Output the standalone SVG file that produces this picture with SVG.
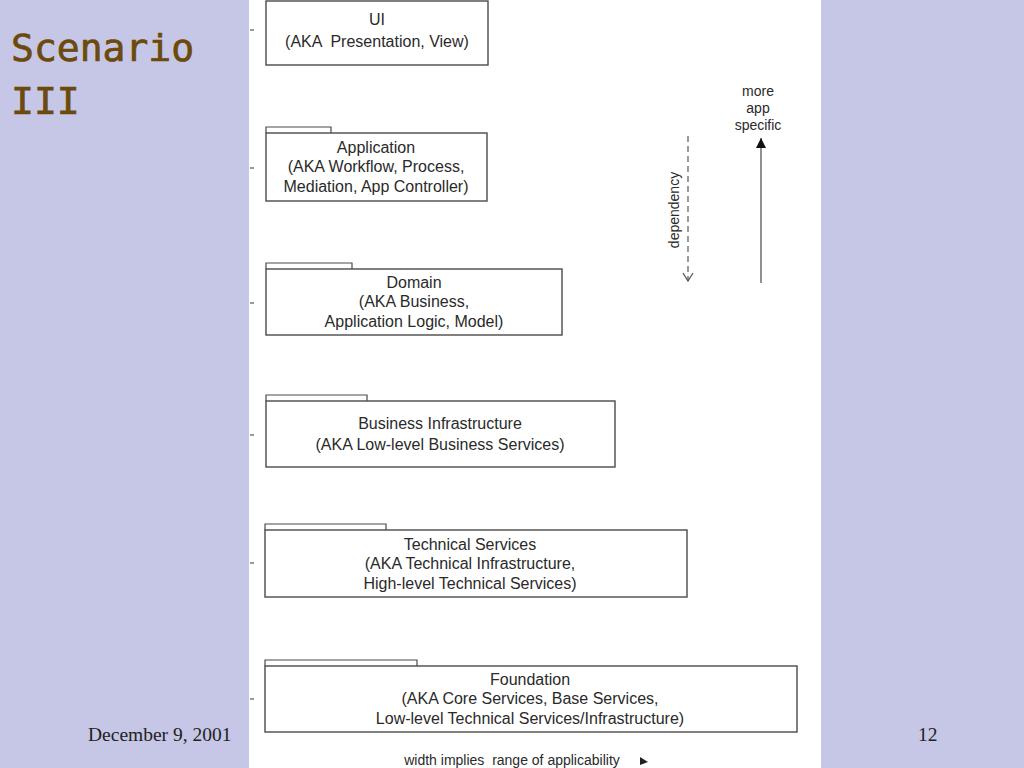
<svg xmlns="http://www.w3.org/2000/svg" width="1024" height="768" viewBox="0 0 1024 768">
<defs>
<style>
.box{fill:#ffffff;stroke:#4a4a4a;stroke-width:1.4}
.tab{fill:none;stroke:#4a4a4a;stroke-width:1.2}
.t{font-family:"Liberation Sans",Arial,sans-serif;font-size:16px;fill:#2a2a2a;text-anchor:middle}
.s{font-family:"Liberation Sans",Arial,sans-serif;font-size:14px;fill:#2a2a2a;text-anchor:middle}
.tick{stroke:#555;stroke-width:1.2}
.title{font-family:"DejaVu Sans Mono",monospace;font-size:38px;fill:#6b4a0c;stroke:#6b4a0c;stroke-width:0.7}
.foot{font-family:"Liberation Serif","Times New Roman",serif;font-size:19.5px;fill:#222}
</style>
<marker id="open" viewBox="0 0 12 12" refX="11" refY="6" markerWidth="12" markerHeight="12" markerUnits="userSpaceOnUse" orient="auto">
<path d="M3,1 L11,6 L3,11" fill="none" stroke="#555" stroke-width="1.3"/>
</marker>
<marker id="fill" viewBox="0 0 12 12" refX="6" refY="1" markerWidth="12" markerHeight="12" markerUnits="userSpaceOnUse">
<path d="M6,1 L11,11 L1,11 Z" fill="#111"/>
</marker>
</defs>
<rect width="1024" height="768" fill="#c6c6e6"/>
<rect x="249" y="0" width="572" height="768" fill="#ffffff"/>
<text class="title" x="11" y="61">Scenario</text>
<text class="title" x="11" y="114">III</text>
<text class="foot" x="88" y="741">December 9, 2001</text>
<text class="foot" x="918" y="741">12</text>

<g id="ui">
<rect class="box" x="266" y="1" width="222" height="64"/>
<line class="tick" x1="250" y1="30" x2="254" y2="30"/>
<text class="t" x="377" y="25">UI</text>
<text class="t" x="377" y="47" xml:space="preserve">(AKA  Presentation, View)</text>
</g>
<g id="application">
<path class="tab" d="M266,133 V127 H331 V133"/>
<rect class="box" x="266" y="133" width="221" height="68"/>
<line class="tick" x1="250" y1="168" x2="254" y2="168"/>
<text class="t" x="376" y="153">Application</text>
<text class="t" x="376" y="172">(AKA Workflow, Process,</text>
<text class="t" x="376" y="192">Mediation, App Controller)</text>
</g>
<g id="domain">
<path class="tab" d="M266,269 V263 H352 V269"/>
<rect class="box" x="266" y="269" width="296" height="66"/>
<line class="tick" x1="250" y1="303" x2="254" y2="303"/>
<text class="t" x="414" y="288">Domain</text>
<text class="t" x="414" y="307">(AKA Business,</text>
<text class="t" x="414" y="327">Application Logic, Model)</text>
</g>
<g id="business-infrastructure">
<path class="tab" d="M266,401 V395 H367 V401"/>
<rect class="box" x="266" y="401" width="349" height="66"/>
<line class="tick" x1="250" y1="435" x2="254" y2="435"/>
<text class="t" x="440" y="429">Business Infrastructure</text>
<text class="t" x="440" y="450">(AKA Low-level Business Services)</text>
</g>
<g id="technical-services">
<path class="tab" d="M265,530 V524 H386 V530"/>
<rect class="box" x="265" y="530" width="422" height="67"/>
<line class="tick" x1="250" y1="563" x2="254" y2="563"/>
<text class="t" x="470" y="550">Technical Services</text>
<text class="t" x="470" y="569">(AKA Technical Infrastructure,</text>
<text class="t" x="470" y="589">High-level Technical Services)</text>
</g>
<g id="foundation">
<path class="tab" d="M265,666 V660 H417 V666"/>
<rect class="box" x="265" y="666" width="532" height="66"/>
<line class="tick" x1="250" y1="699" x2="254" y2="699"/>
<text class="t" x="530" y="685">Foundation</text>
<text class="t" x="530" y="704">(AKA Core Services, Base Services,</text>
<text class="t" x="530" y="724">Low-level Technical Services/Infrastructure)</text>
</g>

<g id="connectors">
<line x1="688" y1="136" x2="688" y2="281" stroke="#666" stroke-width="1.3" stroke-dasharray="6,4" marker-end="url(#open)"/>
<line x1="761" y1="283" x2="761" y2="138" stroke="#555" stroke-width="1.3" marker-end="url(#fill)"/>
<path d="M640,757 L648,762 L640,765" fill="#222"/>
</g>
<text class="s" transform="translate(679,210) rotate(-90)">dependency</text>
<text class="s" x="758" y="96">more</text>
<text class="s" x="758" y="113">app</text>
<text class="s" x="758" y="130">specific</text>
<text class="s" x="512" y="765" xml:space="preserve">width implies  range of applicability</text>
</svg>
